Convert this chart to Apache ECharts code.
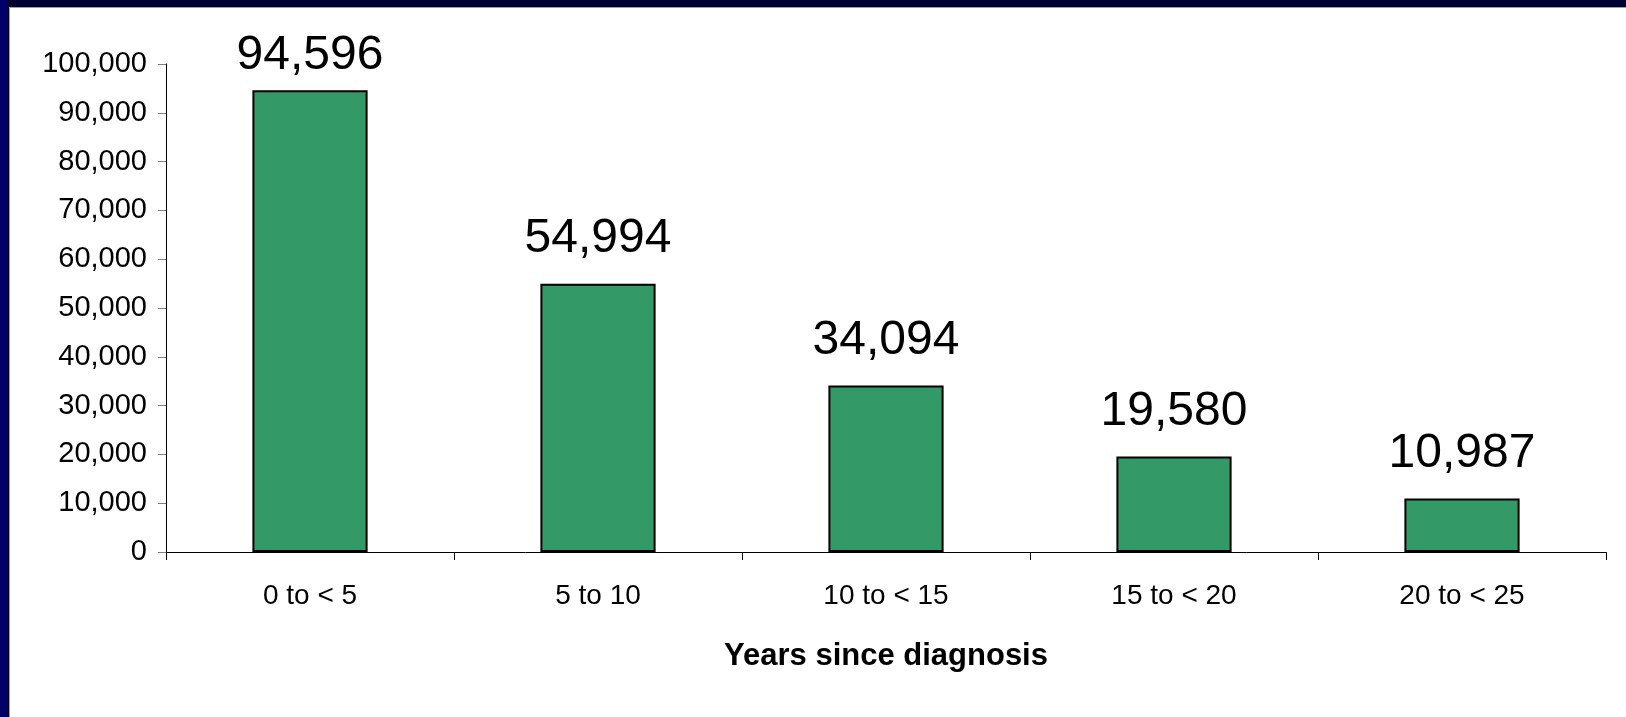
<!DOCTYPE html>
<html>
<head>
<meta charset="utf-8">
<script src="https://cdn.jsdelivr.net/npm/echarts@6/dist/echarts.min.js"></script>
<style>
  html, body { margin: 0; padding: 0; background: #ffffff; overflow: hidden; }
  #chart { position: absolute; left: 0; top: 0; width: 1626px; height: 717px; }
  .b { position: absolute; pointer-events: none; }
</style>
</head>
<body>
<div id="chart"></div>
<div class="b" style="left:0;top:0;width:1626px;height:7px;background:#000033;"></div>
<div class="b" style="left:9px;top:7px;width:1617px;height:1px;background:#a0a0a0;"></div>
<div class="b" style="left:0;top:0;width:8px;height:717px;background:#000066;"></div>
<div class="b" style="left:8px;top:0;width:1px;height:717px;background:#000000;"></div>
<div class="b" style="left:9px;top:7px;width:1px;height:710px;background:#a0a0a0;"></div>
<script>
const categories = ['0 to < 5', '5 to 10', '10 to < 15', '15 to < 20', '20 to < 25'];
const values = [94596, 54994, 34094, 19580, 10987];
const axisTitle = 'Years since diagnosis';

const chart = echarts.init(document.getElementById('chart'), null, { renderer: 'canvas' });
const fmt = v => v.toLocaleString('en-US');
const seriesData = values.map((v, i) => (i === 0 ? { value: v, label: { distance: 11 } } : v));
chart.setOption({
  backgroundColor: 'transparent',
  animation: false,
  grid: { left: 166, right: 20, top: 64, bottom: 165, containLabel: false },
  xAxis: {
    type: 'category',
    data: categories,
    name: axisTitle,
    nameLocation: 'middle',
    nameGap: 89,
    nameTextStyle: { fontFamily: 'Liberation Sans', fontWeight: 'bold', fontSize: 31, color: '#000' },
    axisLine: { lineStyle: { color: '#000', width: 1 } },
    axisTick: { show: true, inside: false, length: 8, alignWithLabel: false, lineStyle: { color: '#000' } },
    axisLabel: { margin: 30, fontFamily: 'Liberation Sans', fontSize: 28, color: '#000' },
    splitLine: { show: false }
  },
  yAxis: {
    type: 'value',
    min: 0,
    max: 100000,
    interval: 10000,
    axisLine: { show: true, lineStyle: { color: '#000', width: 1 } },
    axisTick: { show: true, inside: false, length: 8, lineStyle: { color: '#808080' } },
    axisLabel: { margin: 19, fontFamily: 'Liberation Sans', fontSize: 29, color: '#000', formatter: v => fmt(v) },
    splitLine: { show: false }
  },
  series: [{
    type: 'bar',
    data: seriesData,
    barWidth: '40%',
    itemStyle: { color: '#339966', borderColor: '#000', borderWidth: 2 },
    label: {
      show: true,
      position: 'top',
      distance: 21,
      fontFamily: 'Liberation Sans',
      fontSize: 48,
      color: '#000',
      formatter: p => fmt(p.value)
    }
  }]
});
</script>
</body>
</html>
